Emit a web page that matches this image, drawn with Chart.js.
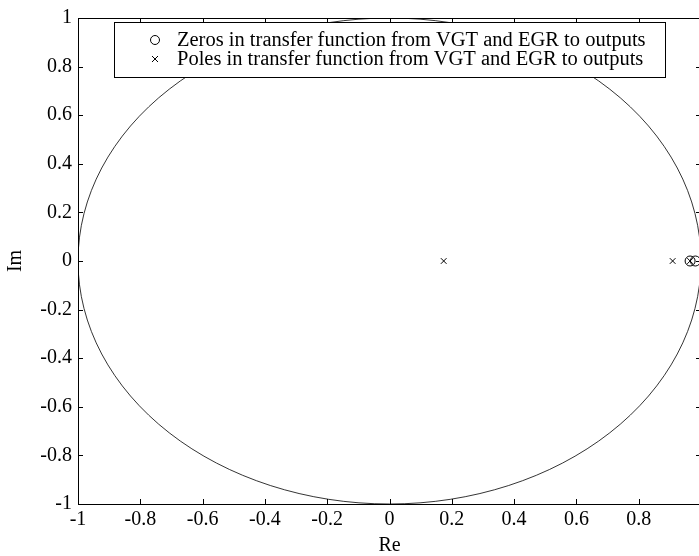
<!DOCTYPE html>
<html>
<head>
<meta charset="utf-8">
<script src="https://cdn.jsdelivr.net/npm/chart.js@4/dist/chart.umd.min.js"></script>
<style>
    html, body { margin: 0; padding: 0; background: #fff; overflow: hidden; }
    #wrap { width: 699px; height: 556px; overflow: hidden; }
    canvas { display: block; }
</style>
</head>
<body>
<div id="wrap"><canvas id="pzChart" width="707" height="556"></canvas></div>
<script>
// pole/zero locations (real parts, all on the real axis)
const zerosRe = [0.965, 0.982];
const zerosIm = [0, 0];
const polesRe = [0.174, 0.909, 0.965];
const polesIm = [0, 0, 0];
const tickValues = [-1, -0.8, -0.6, -0.4, -0.2, 0, 0.2, 0.4, 0.6, 0.8, 1];

const legendLabels = [
    'Zeros in transfer function from VGT and EGR to outputs',
    'Poles in transfer function from VGT and EGR to outputs'
];

const FONT = '"Liberation Serif", "Times New Roman", serif';

function toPoints(re, im) {
    return re.map((x, i) => ({ x: x, y: im[i] }));
}

function fmt(v) {
    const r = Math.round(v * 10) / 10;
    return r === 0 ? '0' : String(r);
}

// unit circle, box and inward ticks, matlab style
const framePlugin = {
    id: 'frame',
    beforeDatasetsDraw(chart) {
        const { ctx, chartArea: a, scales: { x, y } } = chart;
        ctx.save();
        ctx.beginPath();
        ctx.rect(a.left, a.top, a.right - a.left, a.bottom - a.top);
        ctx.clip();
        const cx = x.getPixelForValue(0);
        const cy = y.getPixelForValue(0);
        const rx = x.getPixelForValue(1) - cx;
        const ry = cy - y.getPixelForValue(1);
        ctx.beginPath();
        ctx.ellipse(cx, cy, rx, ry, 0, 0, Math.PI * 2);
        ctx.strokeStyle = '#000';
        ctx.lineWidth = 0.8;
        ctx.stroke();
        ctx.restore();
    },
    afterDatasetsDraw(chart) {
        const { ctx, chartArea: a, scales: { x, y } } = chart;
        const len = 5;
        ctx.save();
        ctx.strokeStyle = '#000';
        ctx.lineWidth = 1;
        ctx.beginPath();
        tickValues.forEach(v => {
            const px = Math.round(x.getPixelForValue(v)) + 0.5;
            ctx.moveTo(px, a.bottom); ctx.lineTo(px, a.bottom - len);
            ctx.moveTo(px, a.top); ctx.lineTo(px, a.top + len);
            const py = Math.round(y.getPixelForValue(v)) + 0.5;
            ctx.moveTo(a.left, py); ctx.lineTo(a.left + len, py);
            ctx.moveTo(a.right, py); ctx.lineTo(a.right - len, py);
        });
        ctx.stroke();
        ctx.strokeRect(Math.round(a.left) + 0.5, Math.round(a.top) + 0.5,
            Math.round(a.right - a.left), Math.round(a.bottom - a.top));

        // legend box
        const lx = 114.5, ly = 22.5, lw = 551, lh = 55;
        ctx.fillStyle = '#fff';
        ctx.fillRect(lx, ly, lw, lh);
        ctx.strokeRect(lx, ly, lw, lh);
        ctx.fillStyle = '#000';
        ctx.font = '20.5px ' + FONT;
        ctx.textBaseline = 'middle';
        const rows = [40, 59];
        ctx.beginPath();
        ctx.arc(155, rows[0], 4.5, 0, Math.PI * 2);
        ctx.stroke();
        ctx.beginPath();
        ctx.moveTo(152, rows[1] - 3); ctx.lineTo(158, rows[1] + 3);
        ctx.moveTo(158, rows[1] - 3); ctx.lineTo(152, rows[1] + 3);
        ctx.stroke();
        ctx.fillText(legendLabels[0], 177, rows[0] + 1);
        ctx.fillText(legendLabels[1], 177, rows[1] + 1);
        ctx.restore();
    }
};

new Chart(document.getElementById('pzChart'), {
    type: 'scatter',
    data: {
        datasets: [
            {
                label: legendLabels[0],
                data: toPoints(zerosRe, zerosIm),
                pointStyle: 'circle',
                pointRadius: 5,
                backgroundColor: 'rgba(0,0,0,0)',
                borderColor: '#000',
                borderWidth: 1
            },
            {
                label: legendLabels[1],
                data: toPoints(polesRe, polesIm),
                pointStyle: 'crossRot',
                pointRadius: 4,
                borderColor: '#000',
                borderWidth: 1
            }
        ]
    },
    options: {
        responsive: false,
        animation: false,
        events: [],
        layout: { padding: { top: 11, right: 1, left: 0, bottom: 0 } },
        plugins: { legend: { display: false }, tooltip: { enabled: false } },
        scales: {
            x: {
                type: 'linear', min: -1, max: 1,
                afterBuildTicks: s => { s.ticks = tickValues.map(v => ({ value: v })); },
                afterFit: s => { s.height = 52; s.paddingRight = 0; },
                grid: { display: false, drawTicks: false },
                border: { display: false },
                ticks: {
                    color: '#000', padding: 4, maxRotation: 0, autoSkip: false,
                    font: { family: FONT, size: 20 },
                    // the right-hand "1" sits past the window edge
                    callback: v => (v >= 1 ? '' : fmt(v))
                },
                title: {
                    display: true, text: 'Re', color: '#000',
                    font: { family: FONT, size: 20 }, padding: { top: 2, bottom: -2 }
                }
            },
            y: {
                type: 'linear', min: -1, max: 1,
                afterBuildTicks: s => { s.ticks = tickValues.map(v => ({ value: v })); },
                afterFit: s => { s.width = 78; },
                grid: { display: false, drawTicks: false },
                border: { display: false },
                ticks: {
                    color: '#000', padding: 6, autoSkip: false,
                    font: { family: FONT, size: 20 },
                    callback: v => fmt(v)
                },
                title: {
                    display: true, text: 'Im', color: '#000',
                    font: { family: FONT, size: 20 }, padding: { top: 4, bottom: 0 }
                }
            }
        }
    },
    plugins: [framePlugin]
});
</script>
</body>
</html>
